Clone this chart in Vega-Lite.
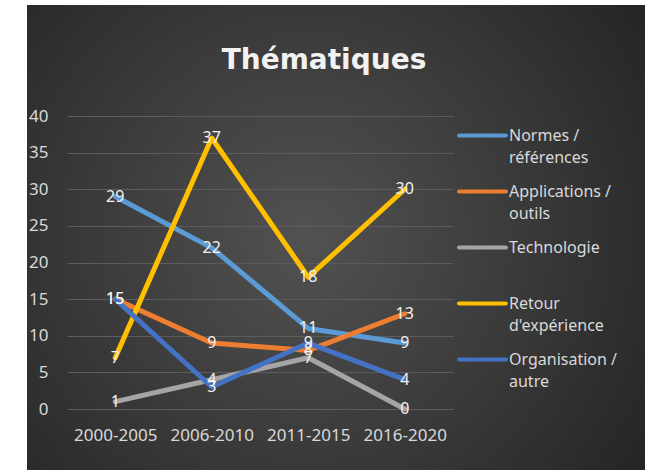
{
  "$schema": "https://vega.github.io/schema/vega-lite/v6.json",
  "autosize": "none",
  "width": 618,
  "height": 465,
  "padding": {"left": 27, "top": 5, "right": 12, "bottom": 4},
  "background": "white",
  "title": {"text": "Thématiques", "font": "DejaVu Sans", "fontSize": 28, "fontWeight": "bold", "color": "#f2f2f2", "anchor": "middle", "frame": "group", "offset": -70, "dx": -12},
  "config": {
    "view": {"stroke": null, "fill": {"gradient": "radial", "x1": 0.45, "y1": 0.5, "r1": 0, "x2": 0.45, "y2": 0.5, "r2": 0.75, "stops": [{"offset": 0, "color": "#525252"}, {"offset": 1, "color": "#1f1f1f"}]}},
    "axis": {"labelFont": "Noto Sans", "labelColor": "#d9d9d9", "labelFontSize": 17, "domain": false, "ticks": false, "tickSize": 0, "title": null},
    "legend": {"orient": "none", "legendX": 430, "legendY": 105, "symbolType": "stroke", "symbolSize": 2200, "symbolStrokeWidth": 4, "labelFont": "Noto Sans", "labelFontSize": 16, "labelColor": "#d9d9d9", "labelOffset": 1, "gridAlign": "all", "rowPadding": 0, "labelLimit": 200, "padding": 0, "title": null}
  },
  "data": {"values": [
    {"period": "2000-2005", "series": "Normes / références", "value": 29},
    {"period": "2006-2010", "series": "Normes / références", "value": 22},
    {"period": "2011-2015", "series": "Normes / références", "value": 11},
    {"period": "2016-2020", "series": "Normes / références", "value": 9},
    {"period": "2000-2005", "series": "Applications / outils", "value": 15},
    {"period": "2006-2010", "series": "Applications / outils", "value": 9},
    {"period": "2011-2015", "series": "Applications / outils", "value": 8},
    {"period": "2016-2020", "series": "Applications / outils", "value": 13},
    {"period": "2000-2005", "series": "Technologie", "value": 1},
    {"period": "2006-2010", "series": "Technologie", "value": 4},
    {"period": "2011-2015", "series": "Technologie", "value": 7},
    {"period": "2016-2020", "series": "Technologie", "value": 0},
    {"period": "2000-2005", "series": "Retour d'expérience", "value": 7},
    {"period": "2006-2010", "series": "Retour d'expérience", "value": 37},
    {"period": "2011-2015", "series": "Retour d'expérience", "value": 18},
    {"period": "2016-2020", "series": "Retour d'expérience", "value": 30},
    {"period": "2000-2005", "series": "Organisation / autre", "value": 15},
    {"period": "2006-2010", "series": "Organisation / autre", "value": 3},
    {"period": "2011-2015", "series": "Organisation / autre", "value": 9},
    {"period": "2016-2020", "series": "Organisation / autre", "value": 4}
  ]},
  "encoding": {
    "x": {"field": "period", "type": "ordinal", "sort": null, "scale": {"type": "point", "padding": 0.5, "range": [40, 426]}, "axis": {"labelAngle": 0, "offset": -61, "labelPadding": 18, "grid": false}},
    "y": {"field": "value", "type": "quantitative", "scale": {"domain": [0, 40], "range": [404, 111], "nice": false}, "axis": {"values": [0, 5, 10, 15, 20, 25, 30, 35, 40], "offset": -23, "labelPadding": 2, "grid": true, "gridColor": "#5c5c5c", "gridWidth": 1}}
  },
  "layer": [
    {
      "mark": {"type": "line", "strokeWidth": 5, "strokeJoin": "round", "strokeCap": "round"},
      "encoding": {
        "color": {"field": "series", "type": "nominal", "scale": {"domain": ["Normes / références", "Applications / outils", "Technologie", "Retour d'expérience", "Organisation / autre"], "range": ["#5B9BD5", "#ED7D31", "#A5A5A5", "#FFC000", "#4472C4"]},
          "legend": {"labelExpr": "split(replace(replace(datum.label, '/ ', '/|'), 'Retour ', 'Retour|'), '|')", "symbolStrokeWidth": 4,
            "encode": {"labels": {"update": {"lineHeight": {"value": 22}}}, "symbols": {"update": {"strokeCap": {"value": "round"}}}}}}
      }
    },
    {
      "mark": {"type": "text", "font": "Noto Sans", "fontSize": 16, "color": "#f2f2f2", "align": "center", "baseline": "middle"},
      "encoding": {"text": {"field": "value", "type": "quantitative"}, "detail": {"field": "series"}}
    }
  ]
}
